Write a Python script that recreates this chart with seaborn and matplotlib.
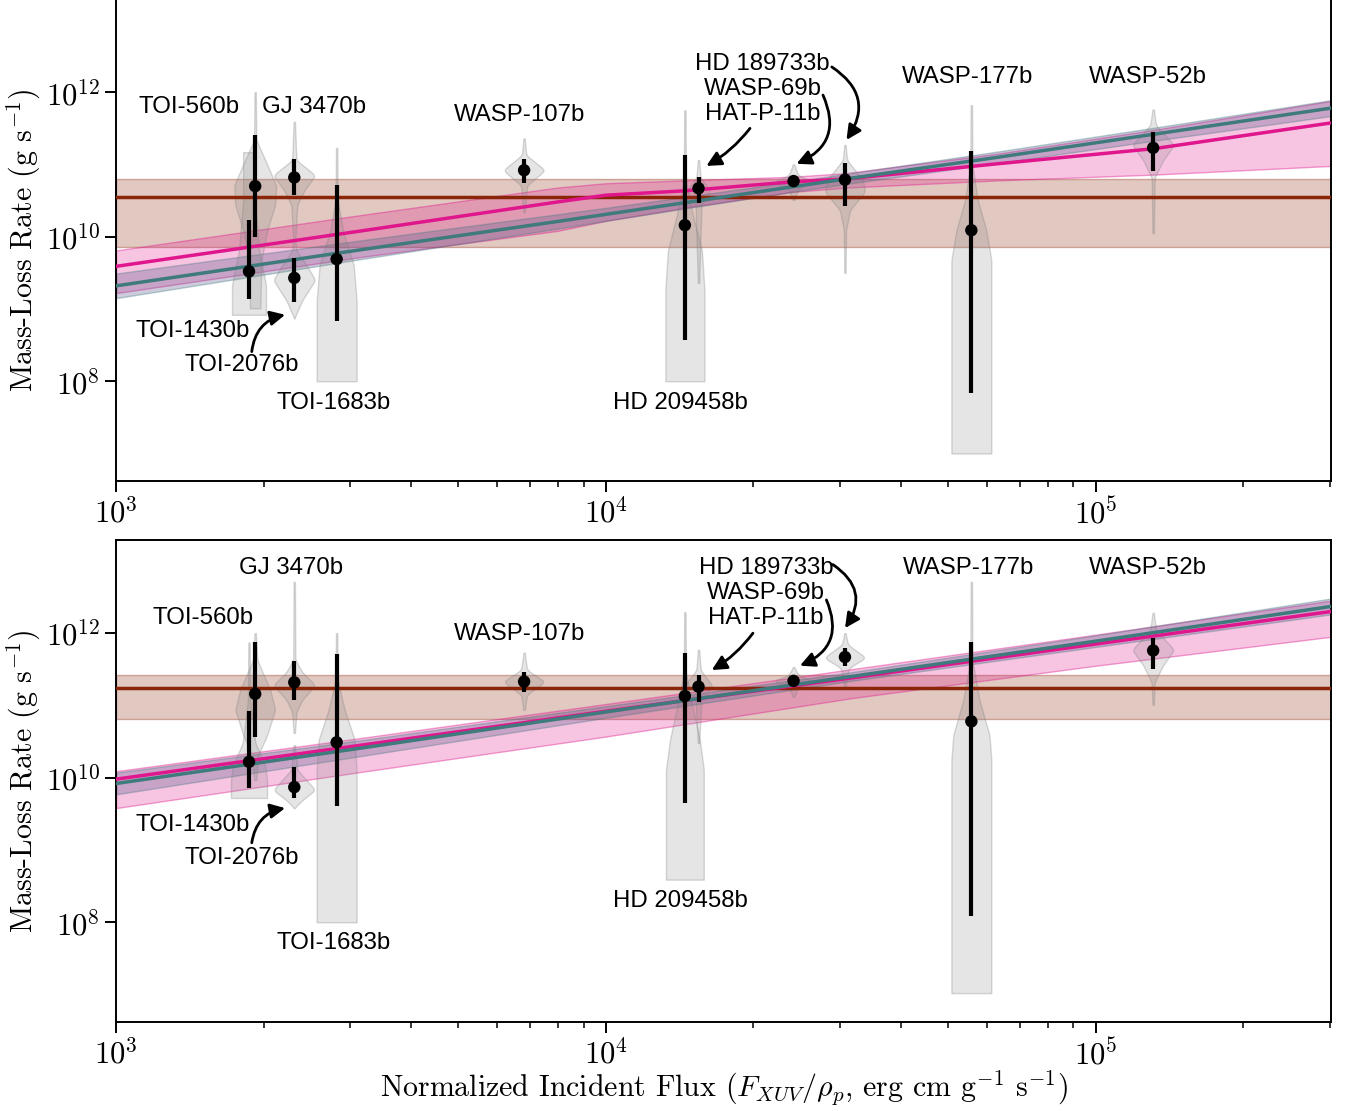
import numpy as np
import matplotlib
matplotlib.use("Agg")
import matplotlib.pyplot as plt
import matplotlib.ticker as mticker
import seaborn as sns

# ---------------- data (log10 values) ----------------
planets = ["TOI-1430b", "TOI-560b", "GJ 3470b", "TOI-2076b", "TOI-1683b", "WASP-107b",
           "HD 209458b", "HAT-P-11b", "WASP-69b", "HD 189733b", "WASP-177b", "WASP-52b"]
flux = [1868, 1923, 2311, 2311, 2820, 6806, 14490, 15450, 24150, 30750, 55700, 130900]

# top panel: log10 mass-loss rate, upper and lower ends of error bar
top_log = [9.52, 10.70, 10.82, 9.43, 9.69, 10.92, 10.16, 10.67, 10.77, 10.79, 10.09, 11.23]
top_hi = [10.23, 11.41, 11.08, 9.71, 10.72, 11.08, 11.13, 10.83, 10.80, 11.02, 11.18, 11.45]
top_lo = [9.14, 10.00, 10.58, 9.09, 8.83, 10.75, 8.57, 10.46, 10.74, 10.42, 7.84, 10.91]

# bottom panel
bot_log = [10.22, 11.16, 11.32, 9.87, 10.49, 11.33, 11.13, 11.26, 11.34, 11.67, 10.78, 11.76]
bot_hi = [10.92, 11.88, 11.62, 10.15, 11.71, 11.46, 11.72, 11.42, 11.37, 11.79, 11.88, 11.93]
bot_lo = [9.86, 10.56, 11.08, 9.72, 9.61, 11.19, 9.65, 11.05, 11.31, 11.54, 8.08, 11.51]

# violin profiles: (log10 Mdot knots from top to bottom, relative half-width)
top_violins = [
    ([11.17, 10.51, 9.81, 9.33, 8.92], [0.28, 0.28, 0.48, 0.81, 0.81]),
    ([12.00, 11.34, 11.06, 10.71, 10.44, 10.09, 9.68, 9.12, 9.01], [0.03, 0.05, 0.48, 1.0, 0.95, 0.57, 0.3, 0.25, 0.25]),
    ([11.59, 11.06, 10.85, 10.64, 10.44, 9.95], [0.03, 0.1, 1.0, 0.48, 0.14, 0.05]),
    ([9.95, 9.81, 9.61, 9.40, 9.12, 8.87], [0.05, 0.1, 0.57, 1.0, 0.38, 0.0]),
    ([11.23, 10.51, 10.09, 9.61, 9.12, 8.00], [0.03, 0.05, 0.3, 0.81, 0.95, 0.95]),
    ([11.36, 11.13, 10.92, 10.71, 10.34], [0.03, 0.1, 1.0, 0.14, 0.03]),
    ([11.75, 10.78, 10.30, 9.81, 9.26, 8.00], [0.03, 0.05, 0.38, 0.81, 0.93, 0.93]),
    ([11.06, 10.81, 10.64, 10.44, 9.36], [0.03, 0.1, 0.57, 0.14, 0.03]),
    ([11.00, 10.84, 10.76, 10.67, 10.51], [0.03, 0.24, 1.05, 0.24, 0.03]),
    ([11.27, 11.06, 10.78, 10.62, 10.37, 10.09, 9.50], [0.03, 0.1, 0.86, 0.95, 0.24, 0.05, 0.03]),
    ([11.82, 10.99, 10.51, 10.09, 9.68, 7.00], [0.03, 0.05, 0.3, 0.71, 0.95, 0.95]),
    ([11.76, 11.54, 11.27, 11.06, 10.82, 10.05], [0.03, 0.14, 1.0, 0.48, 0.07, 0.03]),
]
bot_violins = [
    ([11.87, 11.08, 10.48, 10.18, 9.97, 9.72], [0.03, 0.05, 0.3, 0.76, 0.86, 0.86]),
    ([12.00, 11.63, 11.22, 10.94, 10.59, 10.31, 9.97], [0.03, 0.1, 0.71, 0.95, 0.57, 0.14, 0.05]),
    ([12.71, 11.63, 11.46, 11.28, 11.08, 10.91, 10.62], [0.03, 0.05, 0.38, 1.0, 0.38, 0.1, 0.03]),
    ([10.45, 10.11, 9.83, 9.69, 9.58], [0.03, 0.14, 1.0, 0.38, 0.0]),
    ([12.00, 11.35, 10.94, 10.52, 10.11, 8.00], [0.03, 0.05, 0.38, 0.86, 0.95, 0.95]),
    ([11.73, 11.49, 11.33, 11.15, 10.94], [0.03, 0.14, 1.0, 0.14, 0.03]),
    ([12.29, 11.45, 11.08, 10.52, 10.11, 8.59], [0.03, 0.05, 0.3, 0.71, 0.9, 0.9]),
    ([11.77, 11.49, 11.27, 11.08, 10.48], [0.03, 0.1, 0.67, 0.14, 0.03]),
    ([11.53, 11.41, 11.34, 11.26, 11.12], [0.03, 0.24, 1.05, 0.24, 0.03]),
    ([12.00, 11.84, 11.66, 11.52, 11.26], [0.03, 0.14, 1.0, 0.19, 0.03]),
    ([12.71, 11.63, 11.08, 10.59, 10.25, 7.02], [0.03, 0.05, 0.38, 0.86, 0.95, 0.95]),
    ([12.28, 12.04, 11.77, 11.56, 11.32, 11.01], [0.03, 0.14, 1.0, 0.48, 0.07, 0.03]),
]

# constant-rate model (log10) with its band
const_top = (10.548, 9.856, 10.797)
const_bot = (11.247, 10.81, 11.42)

# fitted relations (log10 flux -> log10 Mdot) and their bands
fit_lx_top = [3.0, 3.5, 3.9, 4.0, 4.16, 4.38, 4.49, 4.8, 5.12, 5.48]
mag_top = [9.59, 10.08, 10.48, 10.575, 10.635, 10.76, 10.80, 11.01, 11.22, 11.575]
mag_top_hi = [9.81, 10.30, 10.68, 10.74, 10.78, 10.83, 10.88, 11.15, 11.48, 11.88]
mag_top_lo = [9.22, 9.72, 10.08, 10.22, 10.40, 10.62, 10.68, 10.78, 10.86, 10.98]
teal_top = [9.32, 9.82, 10.21, 10.31, 10.47, 10.69, 10.80, 11.10, 11.42, 11.78]
teal_top_hi = [9.49, 9.95, 10.31, 10.40, 10.55, 10.76, 10.87, 11.18, 11.51, 11.89]
teal_top_lo = [9.15, 9.69, 10.11, 10.22, 10.39, 10.62, 10.73, 11.02, 11.33, 11.67]

fit_lx_bot = [3.0, 3.5, 4.0, 4.5, 5.0, 5.48]
mag_bot = [9.98, 10.45, 10.92, 11.38, 11.85, 12.30]
mag_bot_hi = [10.09, 10.55, 11.02, 11.50, 11.98, 12.45]
mag_bot_lo = [9.58, 10.08, 10.57, 11.10, 11.55, 11.95]
teal_bot = [9.92, 10.41, 10.91, 11.40, 11.89, 12.37]
teal_bot_hi = [10.07, 10.52, 10.99, 11.46, 11.97, 12.48]
teal_bot_lo = [9.77, 10.30, 10.83, 11.34, 11.81, 12.26]

# label placements (log10 x, log10 y)
top_labels = [("TOI-560b", 3.149, 11.79), ("GJ 3470b", 3.405, 11.79), ("WASP-107b", 3.824, 11.68),
              ("HD 189733b", 4.320, 12.39), ("WASP-69b", 4.320, 12.04), ("HAT-P-11b", 4.320, 11.70),
              ("WASP-177b", 4.739, 12.21), ("WASP-52b", 5.106, 12.21), ("TOI-1430b", 3.156, 8.69),
              ("TOI-2076b", 3.257, 8.22), ("TOI-1683b", 3.445, 7.70), ("HD 209458b", 4.153, 7.70)]
bot_labels = [("TOI-560b", 3.178, 12.21), ("GJ 3470b", 3.357, 12.90), ("WASP-107b", 3.824, 11.99),
              ("HD 189733b", 4.327, 12.90), ("WASP-69b", 4.327, 12.56), ("HAT-P-11b", 4.327, 12.21),
              ("WASP-177b", 4.741, 12.90), ("WASP-52b", 5.106, 12.90), ("TOI-1430b", 3.156, 9.35),
              ("TOI-2076b", 3.257, 8.89), ("TOI-1683b", 3.445, 7.71), ("HD 209458b", 4.153, 8.29)]
# arrows: (tail lx, tail ly, head lx, head ly, curvature)
top_arrows = [(3.277, 8.41, 3.345, 8.92, -0.35), (4.294, 11.50, 4.205, 10.98, -0.1),
              (4.443, 11.96, 4.389, 11.01, -0.5), (4.461, 12.35, 4.491, 11.34, -0.5)]
bot_arrows = [(3.277, 9.10, 3.345, 9.58, -0.35), (4.300, 12.00, 4.216, 11.49, -0.1),
              (4.450, 12.46, 4.396, 11.55, -0.5), (4.463, 12.95, 4.488, 12.07, -0.5)]

# ---------------- style ----------------
sns.set_theme(style="ticks")
plt.rcParams["font.family"] = ["cmr10"]
plt.rcParams["mathtext.fontset"] = "cm"
plt.rcParams["axes.formatter.use_mathtext"] = True
for key in ["text.color", "axes.labelcolor", "xtick.color", "ytick.color", "axes.edgecolor"]:
    plt.rcParams[key] = "black"

MAGENTA = "#e0168c"
TEAL = "#3f7b7d"
BROWN = "#8a2508"
VIOLIN_HW = 21 / 490.0  # half-width in decades of x
XMIN, XMAX = 1e3, 10 ** 5.48
YMIN, YMAX = 10 ** 6.62, 10 ** 13.29

fig = plt.figure(figsize=(13.48, 11.11), dpi=100)
ax_top = fig.add_axes([0.0861, 0.5671, 0.9013, 0.4338])
ax_bot = fig.add_axes([0.0861, 0.0801, 0.9013, 0.4339])


def violin_outline(ky, kw):
    ky = np.array(ky)
    kw = np.array(kw)
    step = 0.005
    yy = np.arange(ky.min(), ky.max() + step / 2, step)
    ww = np.interp(yy, ky[::-1], kw[::-1])
    # soften the polygon corners
    k = np.exp(-0.5 * (np.arange(-12, 13) * step / 0.025) ** 2)
    k /= k.sum()
    padded = np.concatenate([np.full(12, ww[0]), ww, np.full(12, ww[-1])])
    ww = np.convolve(padded, k, mode="valid")
    return yy, np.maximum(ww * VIOLIN_HW, 0.5 / 490)


def panel(ax, logs, his, los, violins, const, lx, mag, mag_hi, mag_lo, teal, teal_hi, teal_lo,
          labels, arrows):
    ax.set_xscale("log")
    ax.set_yscale("log")
    # constant model
    ax.axhspan(10 ** const[1], 10 ** const[2], facecolor=(0.54, 0.145, 0.03, 0.25),
               edgecolor=(0.54, 0.145, 0.03, 0.35), lw=1, zorder=1)
    ax.axhline(10 ** const[0], color=BROWN, lw=2.5, zorder=2.6)
    # fit bands
    xs = 10 ** np.array(lx)
    ax.fill_between(xs, 10 ** np.array(mag_lo), 10 ** np.array(mag_hi),
                    facecolor=matplotlib.colors.to_rgba(MAGENTA, 0.25),
                    edgecolor=matplotlib.colors.to_rgba(MAGENTA, 0.4), lw=1, zorder=1.2)
    ax.fill_between(xs, 10 ** np.array(teal_lo), 10 ** np.array(teal_hi),
                    facecolor=(0.35, 0.35, 0.55, 0.3),
                    edgecolor=matplotlib.colors.to_rgba(TEAL, 0.35), lw=1, zorder=1.3)
    # violins
    for (cx, (ky, kw)) in zip(flux, violins):
        yy, hw = violin_outline(ky, kw)
        ax.fill_betweenx(10 ** yy, cx * 10 ** (-hw), cx * 10 ** hw,
                         facecolor=(0.5, 0.5, 0.5, 0.2), edgecolor=(0.5, 0.5, 0.5, 0.3),
                         lw=1, zorder=1.5)
    # fit lines
    sns.lineplot(x=xs, y=10 ** np.array(mag), color=MAGENTA, lw=2.5, ax=ax, zorder=2.8)
    sns.lineplot(x=xs, y=10 ** np.array(teal), color=TEAL, lw=2.5, ax=ax, zorder=2.9)
    # data
    y = 10 ** np.array(logs)
    hi = 10 ** np.array(his)
    lo = 10 ** np.array(los)
    ax.errorbar(flux, y, yerr=[y - lo, hi - y], fmt="none", ecolor="black", elinewidth=3,
                capsize=0, zorder=4)
    sns.scatterplot(x=flux, y=y, color="black", s=80, edgecolor="none", ax=ax, zorder=5)
    # labels and arrows
    for name, lxl, lyl in labels:
        ax.text(10 ** lxl, 10 ** lyl, name, ha="center", va="center", fontsize=17.3,
                family="Liberation Sans", color="black", zorder=6)
    for (tx, ty, hx, hy, rad) in arrows:
        ax.annotate("", xy=(10 ** hx, 10 ** hy), xytext=(10 ** tx, 10 ** ty),
                    arrowprops=dict(arrowstyle="-|>", color="black", lw=2,
                                    mutation_scale=22, shrinkA=0, shrinkB=0,
                                    connectionstyle=f"arc3,rad={rad}"), zorder=6)

    ax.set_xlim(XMIN, XMAX)
    ax.set_ylim(YMIN, YMAX)
    ax.yaxis.set_major_locator(mticker.FixedLocator([1e8, 1e10, 1e12]))
    ax.yaxis.set_minor_locator(mticker.NullLocator())
    ax.yaxis.set_major_formatter(mticker.FuncFormatter(lambda v, p: r"$10^{%d}$" % round(np.log10(v))))
    ax.xaxis.set_major_locator(mticker.LogLocator(base=10, numticks=10))
    ax.xaxis.set_minor_locator(mticker.LogLocator(base=10, subs=np.arange(2, 10), numticks=10))
    ax.xaxis.set_major_formatter(mticker.FuncFormatter(lambda v, p: r"$10^{%d}$" % round(np.log10(v))))
    ax.xaxis.set_minor_formatter(mticker.NullFormatter())
    ax.tick_params(which="major", length=8, width=1.4, labelsize=22, direction="out", colors="black")
    ax.tick_params(which="minor", length=4.5, width=1.1, direction="out", colors="black")
    for s in ax.spines.values():
        s.set_linewidth(1.4)
        s.set_color("black")
        s.set_visible(True)
    ax.set_xlabel("")
    ax.set_ylabel(r"Mass-Loss Rate (g s$^{-1}$)", fontsize=21.5, family="cmr10", color="black")
    ax.yaxis.label.set_verticalalignment("center")
    ax.yaxis.set_label_coords(-0.0755, 0.5)


panel(ax_top, top_log, top_hi, top_lo, top_violins, const_top, fit_lx_top, mag_top, mag_top_hi,
      mag_top_lo, teal_top, teal_top_hi, teal_top_lo, top_labels, top_arrows)
panel(ax_bot, bot_log, bot_hi, bot_lo, bot_violins, const_bot, fit_lx_bot, mag_bot, mag_bot_hi,
      mag_bot_lo, teal_bot, teal_bot_hi, teal_bot_lo, bot_labels, bot_arrows)
ax_bot.set_xlabel(r"Normalized Incident Flux ($F_{XUV}/\rho_p$, erg cm g$^{-1}$ s$^{-1}$)",
                  fontsize=21.5, family="cmr10", color="black")
ax_bot.xaxis.label.set_verticalalignment("center")
ax_bot.xaxis.set_label_coords(0.5, -0.137)

fig.savefig("out.png", dpi=100)
